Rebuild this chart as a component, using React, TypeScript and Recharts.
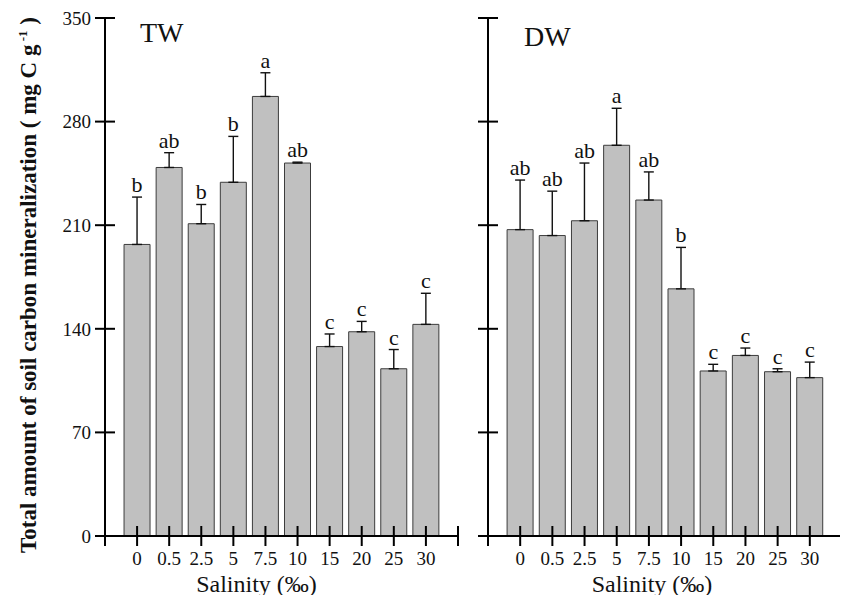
import React from "react";
import {
  ComposedChart,
  Bar,
  Line,
  XAxis,
  YAxis,
  ErrorBar,
  LabelList,
  Label,
} from "recharts";

const salinity = ["0", "0.5", "2.5", "5", "7.5", "10", "15", "20", "25", "30"];
const twMean = [197, 249, 211, 239, 297, 252, 128, 138, 113, 143];
const twErr = [32, 10, 13, 31, 16, 0.6, 8.5, 7, 13, 21];
const twLetters = ["b", "ab", "b", "b", "a", "ab", "c", "c", "c", "c"];
const dwMean = [207, 203, 213, 264, 227, 167, 111.5, 122, 111, 107];
const dwErr = [33.5, 30, 39, 25, 19, 28, 4.5, 5, 2, 10.5];
const dwLetters = ["ab", "ab", "ab", "a", "ab", "b", "c", "c", "c", "c"];
const yTicks = [0, 70, 140, 210, 280, 350];

const FONT = "'Liberation Serif', 'Times New Roman', serif";
const TICK = 10;
const X_MARGIN = 6;
const Y_MARGIN = 4;

// category slots 1..n, with an empty slot at each end of the axis
const xTicks = [0, ...salinity.map((_, i) => i + 1), salinity.length + 1];

function buildRows(mean: number[], err: number[], letters: string[]) {
  return salinity.map((s, i) => ({
    pos: i + 1,
    name: s,
    mean: mean[i],
    err: [0, err[i]],
    top: mean[i] + err[i],
    letter: letters[i],
  }));
}

const XTick = (props: any) => {
  const { x, y, payload } = props;
  const axisY = y - X_MARGIN - TICK;
  const v = payload.value;
  const label = v >= 1 && v <= salinity.length ? salinity[v - 1] : "";
  return (
    <g>
      <line x1={x} x2={x} y1={axisY} y2={axisY - TICK} stroke="#000" strokeWidth={2} />
      <text
        x={x}
        y={y}
        dy="0.71em"
        textAnchor="middle"
        fontFamily={FONT}
        fontSize={19}
        fill="#111"
      >
        {label}
      </text>
    </g>
  );
};

const makeYTick = (showLabel: boolean) => (props: any) => {
  const { x, y, payload } = props;
  const axisX = x + Y_MARGIN + TICK;
  return (
    <g>
      <line x1={axisX} x2={axisX + TICK} y1={y} y2={y} stroke="#000" strokeWidth={2} />
      {showLabel && (
        <text
          x={x}
          y={y}
          dy="0.36em"
          textAnchor="end"
          fontFamily={FONT}
          fontSize={19}
          fill="#111"
        >
          {payload.value}
        </text>
      )}
    </g>
  );
};

const YTitle = (props: any) => {
  const vb = props.viewBox;
  const cx = vb.x + 31;
  const cy = vb.y + vb.height / 2 + 8;
  return (
    <text
      transform={`translate(${cx},${cy}) rotate(-90)`}
      textAnchor="middle"
      fontFamily={FONT}
      fontWeight="bold"
      fontSize={23}
      fill="#111"
    >
      Total amount of soil carbon mineralization ( mg C g
      <tspan dy={-9} fontSize={13}>
        {" "}-1
      </tspan>
      <tspan dy={9}> )</tspan>
    </text>
  );
};

const makeXTitle = (shift: number) => (props: any) => {
  const vb = props.viewBox;
  return (
    <text
      x={vb.x + vb.width / 2 + shift}
      y={vb.y + 56}
      textAnchor="middle"
      fontFamily={FONT}
      fontSize={24}
      fill="#111"
    >
      Salinity (‰)
    </text>
  );
};

interface PanelProps {
  rows: ReturnType<typeof buildRows>;
  title: string;
  left: number;
  width: number;
  marginLeft: number;
  marginRight: number;
  yWidth: number;
  showYLabels: boolean;
  titleX: number;
  titleY: number;
  labelShift: number;
}

function Panel({
  rows,
  title,
  left,
  width,
  marginLeft,
  marginRight,
  yWidth,
  showYLabels,
  titleX,
  titleY,
  labelShift,
}: PanelProps) {
  return (
    <div style={{ position: "absolute", left, top: 0, width, height: 603 }}>
      <ComposedChart
        width={width}
        height={603}
        data={rows}
        margin={{ top: 18, right: marginRight, bottom: 17, left: marginLeft }}
      >
        <XAxis
          dataKey="pos"
          type="number"
          domain={[0, salinity.length + 1]}
          ticks={xTicks}
          interval={0}
          height={50}
          axisLine={{ stroke: "#000", strokeWidth: 2 }}
          tickLine={{ stroke: "#000", strokeWidth: 2 }}
          tickSize={TICK}
          tickMargin={X_MARGIN}
          tick={XTick}
        >
          <Label content={makeXTitle(labelShift)} />
        </XAxis>
        <YAxis
          type="number"
          domain={[0, 350]}
          ticks={yTicks}
          interval={0}
          width={yWidth}
          axisLine={{ stroke: "#000", strokeWidth: 2 }}
          tickLine={{ stroke: "#000", strokeWidth: 2 }}
          tickSize={TICK}
          tickMargin={Y_MARGIN}
          tick={makeYTick(showYLabels)}
        >
          {showYLabels && <Label content={YTitle} />}
        </YAxis>
        <Bar
          dataKey="mean"
          fill="#c0c0c0"
          stroke="#3c3c3c"
          strokeWidth={1}
          barSize={26}
          isAnimationActive={false}
        >
          <ErrorBar dataKey="err" direction="y" width={5} stroke="#111" strokeWidth={1.4} />
        </Bar>
        <Line
          dataKey="top"
          stroke="none"
          dot={false}
          activeDot={false}
          isAnimationActive={false}
        >
          <LabelList
            dataKey="letter"
            position="top"
            offset={5}
            fill="#111"
            fontSize={22}
            fontFamily={FONT}
          />
        </Line>
      </ComposedChart>
      <div
        style={{
          position: "absolute",
          left: titleX,
          top: titleY,
          fontFamily: FONT,
          fontSize: 28,
          color: "#111",
          lineHeight: 1,
        }}
      >
        {title}
      </div>
    </div>
  );
}

export default function App() {
  const twRows = buildRows(twMean, twErr, twLetters);
  const dwRows = buildRows(dwMean, dwErr, dwLetters);
  return (
    <div
      style={{
        position: "relative",
        width: 848,
        height: 603,
        margin: -8,
        background: "#fff",
        overflow: "hidden",
      }}
    >
      <Panel
        rows={twRows}
        title="TW"
        left={0}
        width={470}
        marginLeft={5}
        marginRight={12}
        yWidth={100}
        showYLabels
        titleX={140}
        titleY={19}
        labelShift={-25}
      />
      <Panel
        rows={dwRows}
        title="DW"
        left={440}
        width={408}
        marginLeft={28}
        marginRight={6}
        yWidth={20}
        showYLabels={false}
        titleX={84}
        titleY={23}
        labelShift={-13}
      />
    </div>
  );
}
